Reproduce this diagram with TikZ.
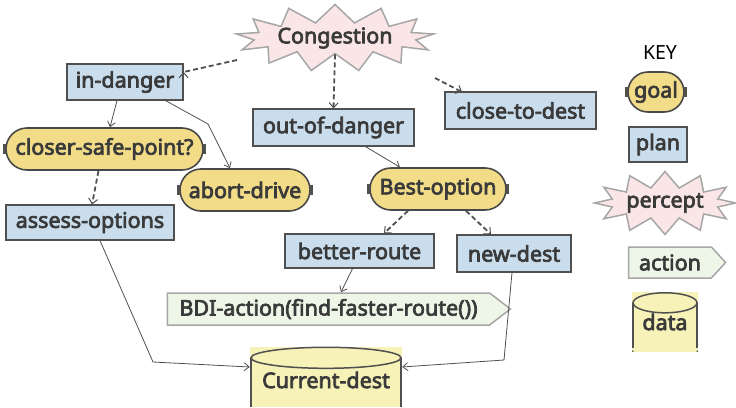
\documentclass[tikz,border=0pt]{standalone}
\usepackage{fontspec}
\setmainfont{Noto Sans}[AutoFakeBold=3.3]
\usetikzlibrary{arrows.meta,shapes.misc,shapes.symbols,shapes.geometric}
\definecolor{txt}{HTML}{3A3A3A}
\definecolor{planfill}{HTML}{C9DDEC}
\definecolor{goalfill}{HTML}{F2DC88}
\definecolor{percfill}{HTML}{FAE6E6}
\definecolor{actfill}{HTML}{EEF6E8}
\definecolor{datafill}{HTML}{F6F2B8}
\definecolor{edgec}{HTML}{505050}
\tikzset{
  lbl/.style={font=\bfseries\fontsize{21.5}{23}\selectfont, text=txt, inner sep=0pt},
  planbox/.style={lbl, rectangle, draw=edgec, line width=1.2pt, fill=planfill},
  goalbox/.style={lbl, rounded rectangle, draw=edgec!90!black, line width=1.6pt, fill=goalfill},
  percbox/.style={lbl, starburst, random starburst=0, draw=black!35, line width=1.5pt, fill=percfill},
  actbox/.style={lbl, signal, signal to=east, draw=black!35, line width=1.5pt, fill=actfill},
  databox/.style={lbl, rectangle, fill=datafill},
  tick/.style={fill=edgec},
  sol/.style={draw=edgec, line width=0.8pt, -{Straight Barb[length=5pt,width=8pt]}},
  dsh/.style={draw=edgec, line width=1.8pt, dash pattern=on 5pt off 3pt, -{Straight Barb[length=5pt,width=9pt,line width=1pt]}},
}
\begin{document}
\begin{tikzpicture}[x=1pt,y=-1pt]
\useasboundingbox (0,0) rectangle (736,407);
% nodes
\node[percbox, minimum width=195pt, minimum height=67pt, starburst points=13, starburst point height=18pt] (cong) at (335,38) {Congestion};
\node[planbox, minimum width=116pt, minimum height=36pt] (indanger) at (125,82) {in-danger};
\node[goalbox, minimum width=197pt, minimum height=42pt] (csp) at (104.5,149) {closer-safe-point?};
\node[goalbox, minimum width=130pt, minimum height=42pt] (abort) at (245,190) {abort-drive};
\node[planbox, minimum width=168pt, minimum height=35pt] (assess) at (90,222.5) {assess-options};
\node[planbox, minimum width=161pt, minimum height=37pt] (ood) at (333.5,127.5) {out-of-danger};
\node[planbox, minimum width=151pt, minimum height=37pt] (ctd) at (520.5,110.5) {close-to-dest};
\node[goalbox, minimum width=136pt, minimum height=42pt] (best) at (438,189) {Best-option};
\node[planbox, minimum width=149pt, minimum height=34pt] (better) at (359.5,251) {better-route};
\node[planbox, minimum width=114pt, minimum height=37pt] (newdest) at (514,253.5) {new-dest};
\node[actbox, minimum width=343pt, minimum height=32pt, signal pointer angle=75] (bdi) at (328.5,309) {BDI-action(find-faster-route())};
\node[databox, minimum width=152pt, minimum height=60pt, text depth=0pt] (cd) at (326,377) {};
% key
\node[font=\fontsize{19.5}{21}\selectfont, text=black, inner sep=0pt] (key) at (660,53) {KEY};
\node[goalbox, minimum width=56pt, minimum height=40pt] (kgoal) at (656,92) {goal};
\node[planbox, minimum width=58pt, minimum height=35pt] (kplan) at (658,144.5) {plan};
\node[percbox, minimum width=130pt, minimum height=63pt, starburst points=12, starburst point height=16pt] (kperc) at (665,203) {percept};
\node[actbox, minimum width=97pt, minimum height=31pt, signal pointer angle=95] (kact) at (670,262.5) {action};
\node[databox, minimum width=66pt, minimum height=60pt] (kdata) at (665,322) {};
% data outlines
\draw[edgec, line width=1.5pt, fill=datafill] (cd.north) ++(0,11) ellipse [x radius=75pt, y radius=10.5pt];
\draw[edgec, line width=1.5pt] ([yshift=-11pt]cd.north west) ++(1,0) -- ([xshift=1pt]cd.south west);
\draw[edgec, line width=1.5pt] ([yshift=-11pt]cd.north east) ++(-1,0) -- ([xshift=-1pt]cd.south east);
\node[lbl] (cdtext) at (326,380) {Current-dest};
\draw[edgec, line width=1.5pt, fill=datafill] (kdata.north) ++(0,11) ellipse [x radius=32pt, y radius=10pt];
\draw[edgec, line width=1.5pt] ([yshift=-11pt]kdata.north west) ++(1,0) -- ([xshift=1pt,yshift=4pt]kdata.south west);
\draw[edgec, line width=1.5pt] ([yshift=-11pt]kdata.north east) ++(-1,0) -- ([xshift=-1pt,yshift=4pt]kdata.south east);
\fill[edgec] ([xshift=1pt,yshift=1pt]kdata.south west) circle (0.9pt);
\fill[edgec] ([xshift=-1pt,yshift=1pt]kdata.south east) circle (0.9pt);
\node[lbl] (kdatatext) at (665,322) {data};
% goal ticks
\foreach \n in {csp,abort,best,kgoal}{
  \fill[tick] ([xshift=-1pt,yshift=-5pt]\n.east) rectangle ([xshift=2.5pt,yshift=5pt]\n.east);
  \fill[tick] ([xshift=1pt,yshift=-5pt]\n.west) rectangle ([xshift=-2.5pt,yshift=5pt]\n.west);
}
% edges
\coordinate (c1) at (237,60);
\draw[dsh] (c1) -- (indanger.north east |- 0,72) -- (indanger.east |- 0,72);
\draw[dsh] (cong.south) -- (ood.north);
\coordinate (c3) at (435,78);
\draw[dsh] (c3) -- (462,92);
\draw[sol] (indanger.south) ++(-8,0) -- (csp.north -| 110,0);
\coordinate (b1) at (208,124);
\draw[sol] (indanger.south east) ++(-18,0) -- (b1) -- (abort.north -| 230,0);
\draw[dsh] (csp.south) ++(-6,0) -- (assess.north -| 92,0);
\draw[sol] (ood.south) ++(32,0) -- (best.north -| 400,0);
\draw[dsh] (best.south) ++(-30,0) -- (better.north -| 384,0);
\draw[dsh] (best.south) ++(28,0) -- (newdest.north -| 491,0);
\draw[sol] (better.south) ++(-7,0) -- (bdi.north -| 341,0);
\coordinate (a1) at (153,362);
\draw[sol] (assess.south) ++(10,0) -- (a1) -- ([yshift=10pt]cd.west);
\coordinate (n1) at (504,360);
\draw[sol] (newdest.south) ++(-2,0) -- (n1) -- ([yshift=10pt]cd.east);
\end{tikzpicture}
\end{document}
